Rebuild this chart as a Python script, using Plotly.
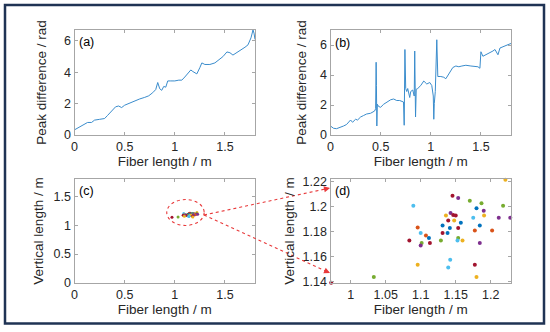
import plotly.graph_objects as go

W, H = 550, 332

# ---------------- data ----------------
x_a = [0, 0.05, 0.1, 0.13, 0.17, 0.2, 0.25, 0.3, 0.33, 0.37, 0.41, 0.44, 0.47, 0.5, 0.55, 0.6,
       0.65, 0.7, 0.74, 0.78, 0.81, 0.83, 0.85, 0.87, 0.89, 0.91, 0.93, 0.96, 1.0, 1.04, 1.07,
       1.1, 1.13, 1.16, 1.18, 1.2, 1.22, 1.25, 1.27, 1.3, 1.35, 1.4, 1.44, 1.48, 1.52, 1.55,
       1.58, 1.62, 1.66, 1.7, 1.73, 1.76, 1.78, 1.79, 1.8]
y_a = [0.33, 0.5, 0.7, 0.8, 0.8, 0.95, 1.0, 1.05, 1.25, 1.5, 1.8, 1.85, 1.75, 1.9, 2.05, 2.2,
       2.3, 2.4, 2.5, 2.7, 2.9, 3.35, 2.95, 2.85, 3.1, 3.05, 3.45, 3.45, 3.45, 3.5, 3.5,
       3.7, 3.95, 4.15, 4.05, 4.0, 3.9, 4.3, 4.6, 4.5, 4.5, 4.6, 4.8, 5.0, 5.3, 5.25,
       5.1, 5.25, 5.45, 5.6, 5.75, 6.2, 6.7, 6.5, 6.1]

x_b = [0, 0.03, 0.06, 0.1, 0.13, 0.16, 0.19, 0.2, 0.22, 0.25, 0.27, 0.3, 0.33, 0.36, 0.4, 0.42,
       0.44, 0.45, 0.455, 0.458, 0.462, 0.467, 0.48, 0.5, 0.53, 0.56, 0.6, 0.63, 0.66, 0.69,
       0.72, 0.728, 0.735, 0.742, 0.75, 0.76, 0.77, 0.78, 0.79, 0.8, 0.82, 0.835, 0.84, 0.848,
       0.855, 0.87, 0.9, 0.93, 0.96, 0.99, 1.01, 1.025, 1.03, 1.035, 1.045, 1.06, 1.07, 1.1,
       1.13, 1.15, 1.17, 1.19, 1.22, 1.25, 1.28, 1.31, 1.35, 1.4, 1.44, 1.47, 1.49, 1.495, 1.5,
       1.52, 1.55, 1.59, 1.62, 1.64, 1.66, 1.67, 1.69, 1.72, 1.75, 1.78, 1.8]
y_b = [0.6, 0.45, 0.42, 0.5, 0.6, 0.7, 0.9, 1.0, 0.85, 1.05, 1.0, 1.2, 1.3, 1.4, 1.45, 1.5,
       1.6, 1.75, 4.85, 3.3, 0.6, 2.05, 1.9, 1.85, 2.05, 2.2, 2.35, 2.4, 2.3, 2.3,
       2.25, 2.2, 0.65, 5.7, 3.1, 2.9, 3.1, 2.7, 2.5, 2.9, 3.0, 2.6, 5.6, 1.2,
       3.05, 3.1, 3.3, 3.6, 3.4, 3.5, 3.3, 2.6, 1.05, 2.1, 2.9, 6.35, 3.9, 3.9,
       3.85, 3.75, 3.95, 4.15, 4.5, 4.6, 4.55, 4.6, 4.65, 4.6, 4.6, 4.55, 4.45, 4.9, 5.55,
       5.25, 5.35, 5.45, 5.6, 5.7, 5.5, 5.35, 5.8, 5.9, 6.0, 6.05, 6.1]

# scatter positions (fiber length, vertical length) and colour index
x_pts = [1.0894, 1.1454, 1.1535, 1.1701, 1.221, 1.1868, 1.2177, 1.1797, 1.190, 1.1426,
         1.1464, 1.150, 1.136, 1.1905, 1.175, 1.2115, 1.228, 1.1393, 1.1478, 1.1573,
         1.1312, 1.1844, 1.0956, 1.1416, 1.1535, 1.1773, 1.202, 1.0999, 1.1312, 1.1383,
         1.1074, 1.1117, 1.0837, 1.1288, 1.1535, 1.1525, 1.1597, 1.1013, 1.1131, 1.0999,
         1.1844, 1.1421, 1.0956, 1.1773, 1.1393, 1.0329, 1.1797, 0.972]
y_pts = [1.2008, 1.2088, 1.2069, 1.2048, 1.2215, 1.2027, 1.2008, 1.1987, 1.1968, 1.1949,
         1.1933, 1.1928, 1.1928, 1.1928, 1.191, 1.191, 1.191, 1.1888, 1.1888, 1.187,
         1.1848, 1.1848, 1.1832, 1.1829, 1.1829, 1.1808, 1.1808, 1.1789, 1.1789, 1.1789,
         1.1768, 1.1749, 1.1728, 1.1728, 1.1749, 1.1728, 1.1728, 1.1709, 1.1709, 1.1688,
         1.1709, 1.1573, 1.1533, 1.1533, 1.1512, 1.1435, 1.1435, 1.139]
c_pts = [5, 6, 3, 4, 2, 4, 4, 0, 3, 3,
         6, 6, 2, 2, 5, 3, 3, 6, 2, 0,
         0, 0, 1, 0, 6, 1, 1, 5, 6, 0,
         1, 0, 6, 4, 4, 5, 2, 4, 6, 3,
         3, 5, 2, 6, 5, 4, 2, 6]
palette = ["#0072BD", "#D95319", "#EDB120", "#7E2F8E", "#77AC30", "#4DBEEE", "#A2142F"]

ticks_ab_x = [0, 0.5, 1, 1.5]
ticks_ab_y = [0, 2, 4, 6]
ticks_c = [0, 0.5, 1, 1.5]
ticks_d_x = [1, 1.05, 1.1, 1.15, 1.2]
ticks_d_y = [1.14, 1.16, 1.18, 1.2, 1.22]

# ---------------- helpers ----------------
def px(x):
    return x / W

def py(y):
    return 1 - y / H

LINE = "#3a8ccc"
AXC = "#a6a6a6"
TXT = "#262626"
FONT = "Liberation Sans, Arial, sans-serif"

def ax(domain, rng, tickvals, ticktext, title, anchor, standoff):
    return dict(domain=domain, range=rng, tickvals=tickvals, ticktext=ticktext,
                showline=True, linecolor=AXC, linewidth=1.3, mirror="ticks",
                ticks="inside", ticklen=3, tickcolor=AXC, tickwidth=1,
                showgrid=False, zeroline=False, anchor=anchor,
                tickfont=dict(family=FONT, size=12.5, color=TXT),
                title=dict(text=title, font=dict(family=FONT, size=13.5, color=TXT),
                           standoff=standoff),
                automargin=False)

fig = go.Figure()
fig.add_trace(go.Scatter(x=x_a, y=y_a, mode="lines", line=dict(color=LINE, width=1),
                         xaxis="x", yaxis="y", showlegend=False))
fig.add_trace(go.Scatter(x=x_b, y=y_b, mode="lines", line=dict(color=LINE, width=1),
                         xaxis="x2", yaxis="y2", showlegend=False))
fig.add_trace(go.Scatter(x=x_pts, y=y_pts, mode="markers",
                         marker=dict(color=[palette[i] for i in c_pts], size=3),
                         xaxis="x3", yaxis="y3", showlegend=False))
fig.add_trace(go.Scatter(x=x_pts, y=y_pts, mode="markers", cliponaxis=False,
                         marker=dict(color=[palette[i] for i in c_pts], size=4),
                         xaxis="x4", yaxis="y4", showlegend=False))

top_y = [py(135), py(30)]
bot_y = [py(283), py(179)]
left_x = [px(74.5), px(255)]
right_x = [px(330.5), px(511)]

fig.update_layout(
    width=W, height=H, margin=dict(l=0, r=0, t=0, b=0),
    paper_bgcolor="white", plot_bgcolor="white",
    xaxis=ax(left_x, [0, 1.8], ticks_ab_x, ["0", "0.5", "1", "1.5"], "Fiber length / m", "y", 3),
    yaxis=ax(top_y, [0, 6.7], ticks_ab_y, ["0", "2", "4", "6"], "Peak difference / rad", "x", 14),
    xaxis2=ax(right_x, [0, 1.8], ticks_ab_x, ["0", "0.5", "1", "1.5"], "Fiber length / m", "y2", 3),
    yaxis2=ax(top_y, [0, 7], ticks_ab_y, ["0", "2", "4", "6"], "Peak difference / rad", "x2", 10),
    xaxis3=ax(left_x, [0, 1.8], ticks_c, ["0", "0.5", "1", "1.5"], "Fiber length / m", "y3", 3),
    yaxis3=ax(bot_y, [0, 1.8], ticks_c, ["0", "0.5", "1", "1.5"], "Vertical length / m", "x3", 6),
    xaxis4=ax(right_x, [0.971, 1.229], ticks_d_x, ["1", "1.05", "1.1", "1.15", "1.2"],
              "Fiber length / m", "y4", 3),
    yaxis4=ax(bot_y, [1.1387, 1.2222], ticks_d_y, ["1.14", "1.16", "1.18", "1.2", "1.22"],
              "Vertical length / m", "x4", 4),
)

RED = "#e8393a"
shapes = [
    # outer frame
    dict(type="rect", xref="paper", yref="paper", x0=px(5), x1=px(544), y0=py(323.5), y1=py(5),
         line=dict(color="#1f3354", width=2.5), fillcolor="rgba(0,0,0,0)", layer="above"),
    # zoom ellipse in (c)
    dict(type="circle", xref="x3", yref="y3", x0=0.92, x1=1.293, y0=0.996, y1=1.444,
         line=dict(color=RED, width=1.1, dash="dot")),
    # connectors
    dict(type="line", xref="paper", yref="paper", x0=px(204), y0=py(215), x1=px(324), y1=py(189.3),
         line=dict(color=RED, width=1.1, dash="dot")),
    dict(type="line", xref="paper", yref="paper", x0=px(204), y0=py(215), x1=px(324), y1=py(270.2),
         line=dict(color=RED, width=1.1, dash="dot")),
]
fig.update_layout(shapes=shapes)

annotations = []
for txt, xx, yy in [("(a)", 77, 41.5), ("(b)", 333, 43), ("(c)", 77, 191), ("(d)", 333, 191)]:
    annotations.append(dict(text=txt, xref="paper", yref="paper", x=px(xx), y=py(yy),
                            xanchor="left", yanchor="middle", showarrow=False,
                            font=dict(family=FONT, size=12.5, color="black")))
for hx, hy, dx, dy in [(330, 188, -7.8, 1.7), (330, 273, -7.3, -3.3)]:
    annotations.append(dict(text="", xref="paper", yref="paper", x=px(hx), y=py(hy),
                            ax=dx, ay=dy, axref="pixel", ayref="pixel", showarrow=True,
                            arrowhead=2, arrowsize=1, arrowwidth=1.2, arrowcolor=RED))
fig.update_layout(annotations=annotations)

fig.write_html("out.html", config={"displayModeBar": False},
               post_script="document.body.style.margin='0';document.body.style.padding='0';")
